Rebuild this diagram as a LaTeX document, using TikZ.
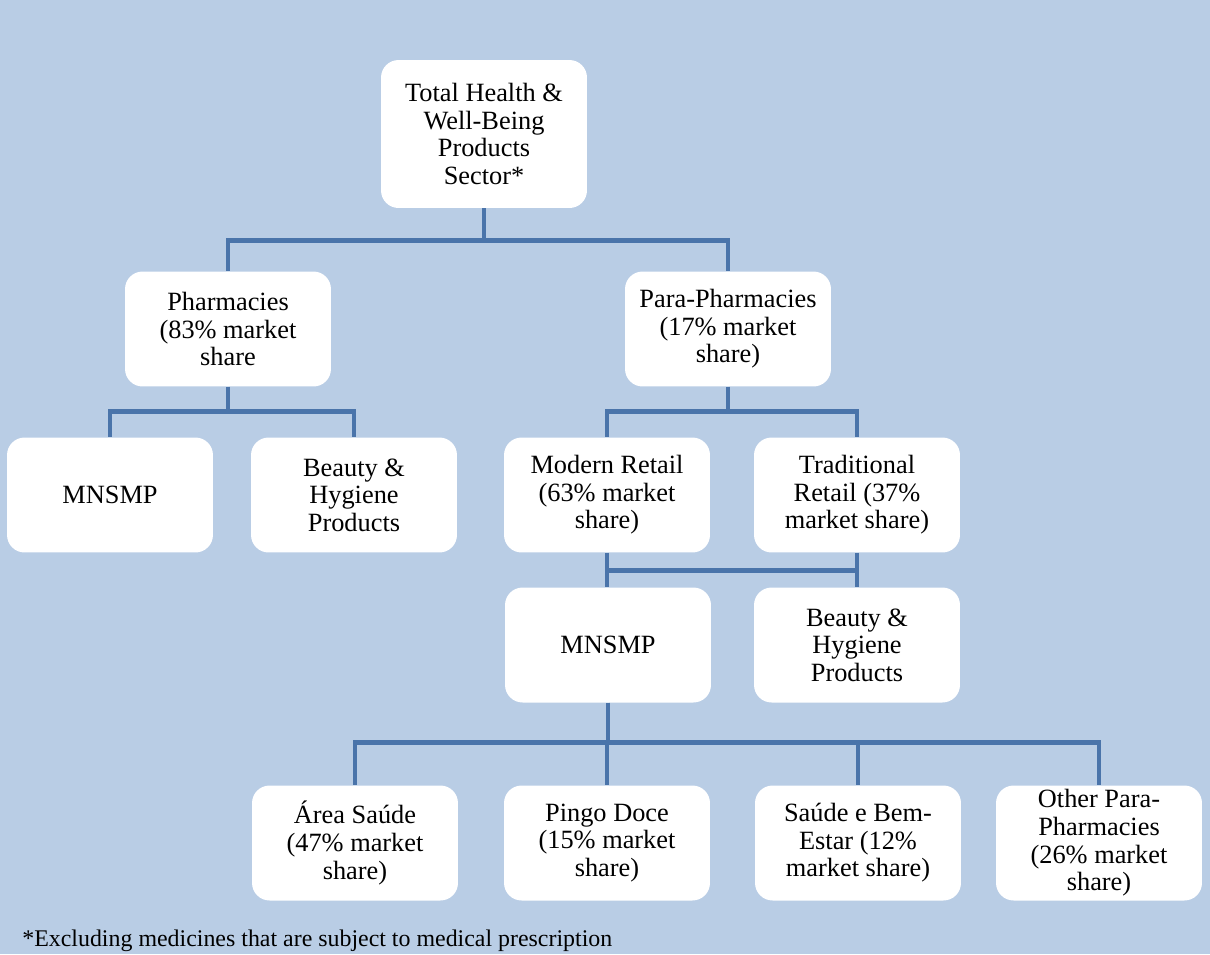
\documentclass[tikz,border=0pt]{standalone}
\usepackage{fontspec}
\setmainfont{Liberation Serif}
\definecolor{bgblue}{RGB}{185,205,229}
\definecolor{linkblue}{RGB}{74,116,170}

\begin{document}
\begin{tikzpicture}[x=0.02cm,y=-0.02cm,
 box/.style={fill=white,rounded corners=10pt,minimum width=4.12cm,minimum height=2.3cm,
   align=center,inner sep=2pt,font=\fontsize{15}{15.7}\selectfont},
 link/.style={draw=linkblue,line width=2.8pt}]
 \fill[bgblue] (0,0) rectangle (1210,954); %背景
 % boxes
 \node[box,minimum height=2.96cm] (total) at (484,134) {Total Health \&\\Well-Being\\Products\\Sector*};
 \node[box] (pharm) at (228,329) {Pharmacies\\(83\% market\\share};
 \node[box] (para) at (728,329) {Para-Pharmacies\\(17\% market\\share)};
 \node[box] (mnsmpA) at (110,495) {MNSMP};
 \node[box] (beautyA) at (354,495) {Beauty \&\\Hygiene\\Products};
 \node[box] (modern) at (607,495) {Modern Retail\\(63\% market\\share)};
 \node[box] (trad) at (857,495) {Traditional\\Retail (37\%\\market share)};
 \node[box] (mnsmpB) at (608,645) {MNSMP};
 \node[box] (beautyB) at (857,645) {Beauty \&\\Hygiene\\Products};
 \node[box] (area) at (355,843) {Área Saúde\\(47\% market\\share)};
 \node[box] (pingo) at (607,843) {Pingo Doce\\(15\% market\\share)};
 \node[box] (saude) at (858,843) {Saúde e Bem-\\Estar (12\%\\market share)};
 \node[box] (other) at (1099,843) {Other Para-\\Pharmacies\\(26\% market\\share)};
 % links
 \draw[link] (total.south) -- ++(0,32) -| (pharm.north);
 \draw[link] (total.south) -- ++(0,32) -| (para.north);
 \draw[link] (pharm.south) -- ++(0,25) -| (mnsmpA.north);
 \draw[link] (pharm.south) -- ++(0,25) -| (beautyA.north);
 \draw[link] (para.south) -- ++(0,25) -| (modern.north);
 \draw[link] (para.south) -- ++(0,25) -| (trad.north);
 \draw[link] (modern.south) -- ++(0,18) coordinate (m1) -- (modern.south |- mnsmpB.north);
 \draw[link] (trad.south) -- ++(0,18) coordinate (t1) -- (trad.south |- beautyB.north);
 \draw[link] (m1) -- (t1);
 \foreach \n in {area,pingo,saude,other}
   \draw[link] (mnsmpB.south) -- ++(0,40) -| (\n.north);
 % footnote
 \node[anchor=base west,inner sep=0pt,font=\fontsize{13.6}{15}\selectfont] (note) at (22,946)
   {*Excluding medicines that are subject to medical prescription};
\end{tikzpicture}
\end{document}
